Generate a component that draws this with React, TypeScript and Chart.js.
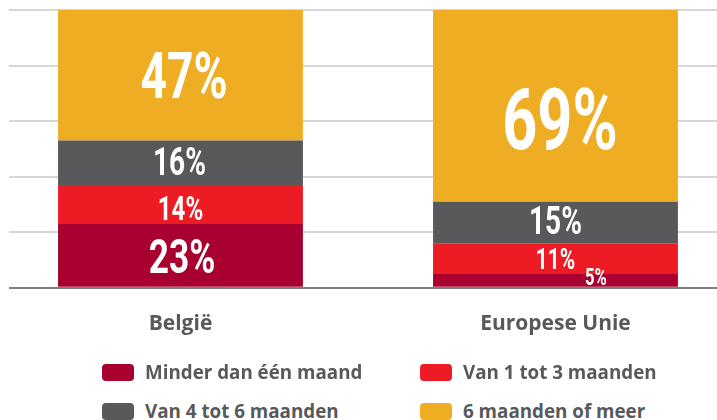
import React, { useEffect, useRef } from "react";
import { Chart, registerables } from "chart.js";

Chart.register(...registerables);

// ---- data ----
const categories = ["België", "Europese Unie"];
const seriesNames = [
  "Minder dan één maand",
  "Van 1 tot 3 maanden",
  "Van 4 tot 6 maanden",
  "6 maanden of meer",
];
const lessThanOneMonth = [23, 5];
const oneToThreeMonths = [14, 11];
const fourToSixMonths = [16, 15];
const sixMonthsOrMore = [47, 69];
const gridTicks = [0, 20, 40, 60, 80, 100];

// ---- styles ----
const seriesColors = ["#A8002F", "#ED1C24", "#58595B", "#EFAD24"];
const textGray = "#58595B";
// per series, per category: font size, dx, dy of in-bar labels
const labelStyle = [
  [{ s: 49, dx: 1.5, dy: 0.5 }, { s: 23, dx: 40.5, dy: -4 }],
  [{ s: 33.5, dx: 0, dy: 4 }, { s: 29, dx: 0, dy: 0 }],
  [{ s: 39, dx: -1, dy: -2 }, { s: 39, dx: 0, dy: -2 }],
  [{ s: 64, dx: 3.5, dy: 0 }, { s: 85, dx: 4.5, dy: 12.6 }],
];
const labelSquash = 0.72;
const capRatio = 0.711;

const barLabelPlugin = {
  id: "barLabels",
  afterDatasetsDraw(chart: any) {
    const ctx = chart.ctx;
    chart.data.datasets.forEach((ds: any, d: number) => {
      const meta = chart.getDatasetMeta(d);
      meta.data.forEach((bar: any, i: number) => {
        const st = labelStyle[d][i];
        const v = ds.data[i].y;
        const cy = (bar.y + bar.base) / 2;
        ctx.save();
        ctx.fillStyle = "#ffffff";
        ctx.font = `bold ${st.s}px Roboto, "Liberation Sans", sans-serif`;
        ctx.textAlign = "center";
        ctx.textBaseline = "alphabetic";
        ctx.translate(bar.x + st.dx, cy + st.dy + (st.s * capRatio) / 2);
        ctx.scale(labelSquash, 1);
        ctx.fillText(`${v}%`, 0, 0);
        ctx.restore();
      });
    });
  },
};

const seriesValues = [lessThanOneMonth, oneToThreeMonths, fourToSixMonths, sixMonthsOrMore];

export default function App() {
  const ref = useRef<HTMLCanvasElement | null>(null);

  useEffect(() => {
    if (!ref.current) return;
    const chart = new Chart(ref.current, {
      type: "bar",
      data: {
        datasets: seriesValues.map((vals, d) => ({
          label: seriesNames[d],
          data: vals.map((y, i) => ({ x: i, y })),
          backgroundColor: seriesColors[d],
          borderWidth: 0,
          barPercentage: 1,
          categoryPercentage: 0.653,
          stack: "s",
        })),
      },
      options: {
        animation: false,
        responsive: false,
        maintainAspectRatio: false,
        layout: { padding: { left: 9, right: 0, top: 10, bottom: 0 } },
        plugins: { legend: { display: false }, tooltip: { enabled: false } },
        scales: {
          x: {
            type: "linear",
            stacked: true,
            offset: false,
            min: -0.4573,
            max: 1.4307,
            afterBuildTicks: (scale: any) => {
              scale.ticks = categories.map((_, i) => ({ value: i }));
            },
            ticks: {
              callback: (v: any) => categories[v as number] ?? "",
              font: { family: '"Open Sans", sans-serif', size: 21, weight: "bold" },
              color: textGray,
              padding: 24,
              maxRotation: 0,
              autoSkip: false,
            },
            grid: { display: false, drawTicks: false, offset: false },
            border: { display: false },
          },
          y: {
            stacked: true,
            min: 0,
            max: 100,
            afterBuildTicks: (scale: any) => {
              scale.ticks = gridTicks.map((v) => ({ value: v }));
            },
            ticks: { display: false },
            grid: {
              drawTicks: false,
              lineWidth: 2,
              color: (c: any) => (c.tick && c.tick.value === 0 ? "#7f7f7f" : "#d6d6d6"),
            },
            border: { display: false },
          },
        },
      },
      plugins: [barLabelPlugin],
    });
    return () => chart.destroy();
  }, []);

  const legendItem = (d: number, left: number, top: number) => (
    <div
      key={d}
      style={{ position: "absolute", left, top, height: 18, display: "flex", alignItems: "center" }}
    >
      <div
        style={{
          width: 32,
          height: 17,
          borderRadius: 4,
          background: seriesColors[d],
          marginRight: 11,
          flex: "none",
        }}
      />
      <span
        style={{
          fontFamily: '"Open Sans", sans-serif',
          fontWeight: 700,
          fontSize: 18.8,
          color: textGray,
          whiteSpace: "nowrap",
        }}
      >
        {seriesNames[d]}
      </span>
    </div>
  );

  return (
    <div
      style={{
        position: "fixed",
        left: 0,
        top: 0,
        width: 717,
        height: 420,
        background: "#ffffff",
        overflow: "hidden",
      }}
    >
      <canvas ref={ref} width={717} height={361} style={{ position: "absolute", left: 0, top: 0 }} />
      {legendItem(0, 102, 363)}
      {legendItem(1, 420, 363)}
      {legendItem(2, 102, 402)}
      {legendItem(3, 420, 402)}
    </div>
  );
}
